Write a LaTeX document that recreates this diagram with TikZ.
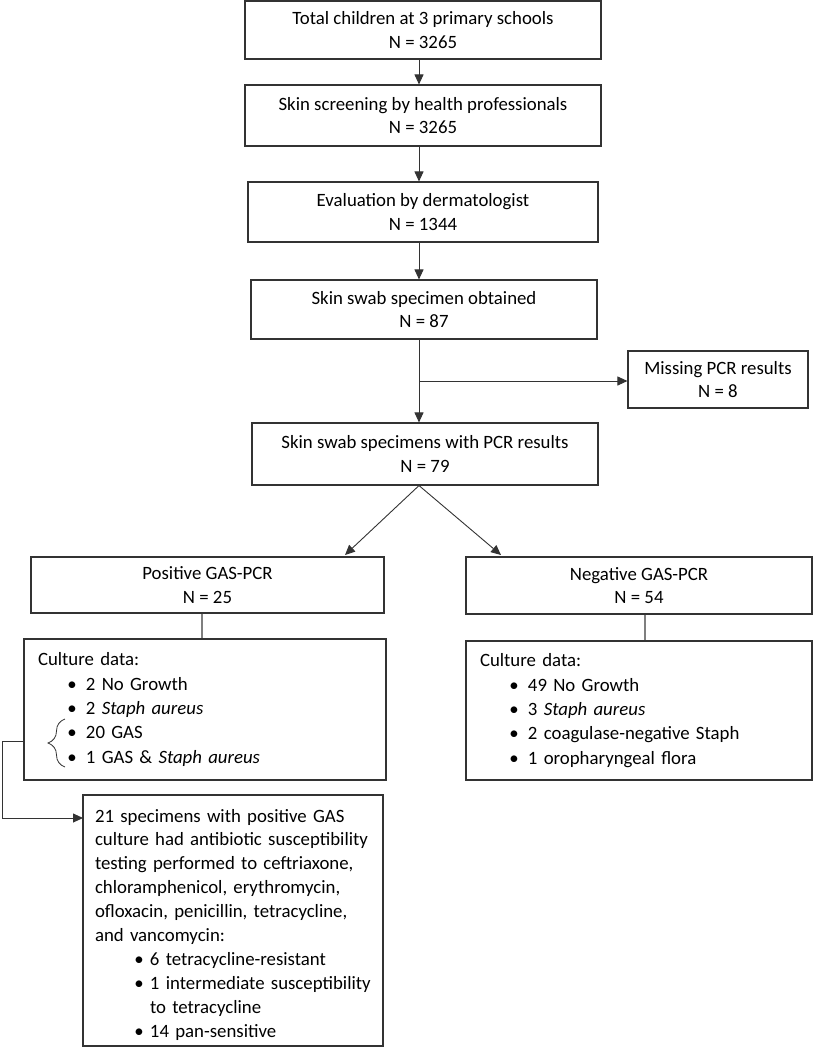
\documentclass[tikz,border=0pt]{standalone}
\usepackage{fontspec}
\setmainfont{Carlito}
\usetikzlibrary{arrows.meta,decorations.pathreplacing}
\definecolor{edge}{HTML}{333333}
\definecolor{conn}{HTML}{7F7F7F}
\hyphenpenalty=10000\relax
\exhyphenpenalty=10000\relax
\newcommand{\lbul}{\hspace*{34pt}\makebox[0pt]{\textbullet}\hspace*{14pt}}
\newcommand{\bbul}{\hspace*{44pt}\makebox[0pt]{\textbullet}\hspace*{11pt}}
\begin{document}
\begin{tikzpicture}[x=1pt,y=-1pt,
  box/.style={draw=edge,line width=1.1pt,inner sep=0pt,align=center,font=\fontsize{18.8}{23.5}\selectfont},
  listbox/.style={draw=edge,line width=1.1pt,inner xsep=14pt,inner ysep=0pt,align=left,font=\fontsize{18.8}{24.3}\selectfont},
  arr/.style={draw=edge,line width=0.9pt,-{Triangle[length=10pt,width=9pt]}},
  ln/.style={draw=conn,line width=1.2pt},
  brc/.style={draw=edge,line width=0.8pt,decorate,decoration={brace,amplitude=17pt,aspect=0.5}}
]
\useasboundingbox (0,0) rectangle (815,1050);
% boxes
\node[box,minimum width=356pt,minimum height=58pt] (b1) at (423,30) {Total children at 3 primary schools\\N = 3265};
\node[box,minimum width=356pt,minimum height=61pt] (b2) at (423,115.5) {Skin screening by health professionals\\N = 3265};
\node[box,minimum width=350pt,minimum height=60pt] (b3) at (423,212) {Evaluation by dermatologist\\N = 1344};
\node[box,minimum width=346pt,minimum height=59pt] (b4) at (424,309.5) {Skin swab specimen obtained\\N = 87};
\node[box,minimum width=180pt,minimum height=57pt] (m) at (718,379.5) {Missing PCR results\\N = 8};
\node[box,minimum width=346pt,minimum height=62pt] (b5) at (425,454) {Skin swab specimens with PCR results\\N = 79};
\node[box,minimum width=353pt,minimum height=56pt] (pos) at (207.5,585) {Positive GAS-PCR\\N = 25};
\node[box,minimum width=346pt,minimum height=57pt] (neg) at (639,585.5) {Negative GAS-PCR\\N = 54};
\node[listbox,text width=334pt,minimum height=141pt] (pc) at (205,709.5) {Culture data:\\
\lbul 2 No Growth\\
\lbul 2 \textit{Staph aureus}\\
\lbul 20 GAS\\
\lbul 1 GAS \& \textit{Staph aureus}};
\node[listbox,text width=318pt,minimum height=139pt] (nc) at (639,710.5) {Culture data:\\
\lbul 49 No Growth\\
\lbul 3 \textit{Staph aureus}\\
\lbul 2 coagulase-negative Staph\\
\lbul 1 oropharyngeal flora};
\node[listbox,inner xsep=12pt,text width=276pt,text height=27pt,text depth=224pt,font=\fontsize{18.8}{23.9}\selectfont] (fb) at (233,920.5) {21 specimens with positive GAS\\
culture had antibiotic susceptibility\\
testing performed to ceftriaxone,\\
chloramphenicol, erythromycin,\\
ofloxacin, penicillin, tetracycline,\\
and vancomycin:\\
\bbul 6 tetracycline-resistant\\
\mbox{\bbul 1 intermediate susceptibility}\\
\hspace*{55pt}to tetracycline\\
\bbul 14 pan-sensitive};
% connectors
\coordinate (xl) at (419,0);
\draw[arr] (b1.south -| xl) -- (b2.north -| xl);
\draw[arr] (b2.south -| xl) -- (b3.north -| xl);
\draw[arr] (b3.south -| xl) -- (b4.north -| xl);
\draw[arr] (b4.south -| xl) -- (b5.north -| xl);
\coordinate (br) at (419,381);
\draw[arr] (br) -- (br -| m.west);
\coordinate (tipL) at (345,555);
\coordinate (tipR) at (501,555);
\draw[arr] (b5.south -| xl) -- (tipL);
\draw[arr] (b5.south -| xl) -- (tipR);
\coordinate (cxp) at (202,0);
\coordinate (cxn) at (645,0);
\draw[ln] (pos.south -| cxp) -- (pc.north -| cxp);
\draw[ln] (neg.south -| cxn) -- (nc.north -| cxn);
% brace and link to final box
\draw[brc] (65,767) -- (65,719);
\coordinate (bk) at (24,741);
\coordinate (fa) at (83,818);
\draw[arr] (bk) -- (2,741) -- (2,818) -- (fa);
\end{tikzpicture}
\end{document}
